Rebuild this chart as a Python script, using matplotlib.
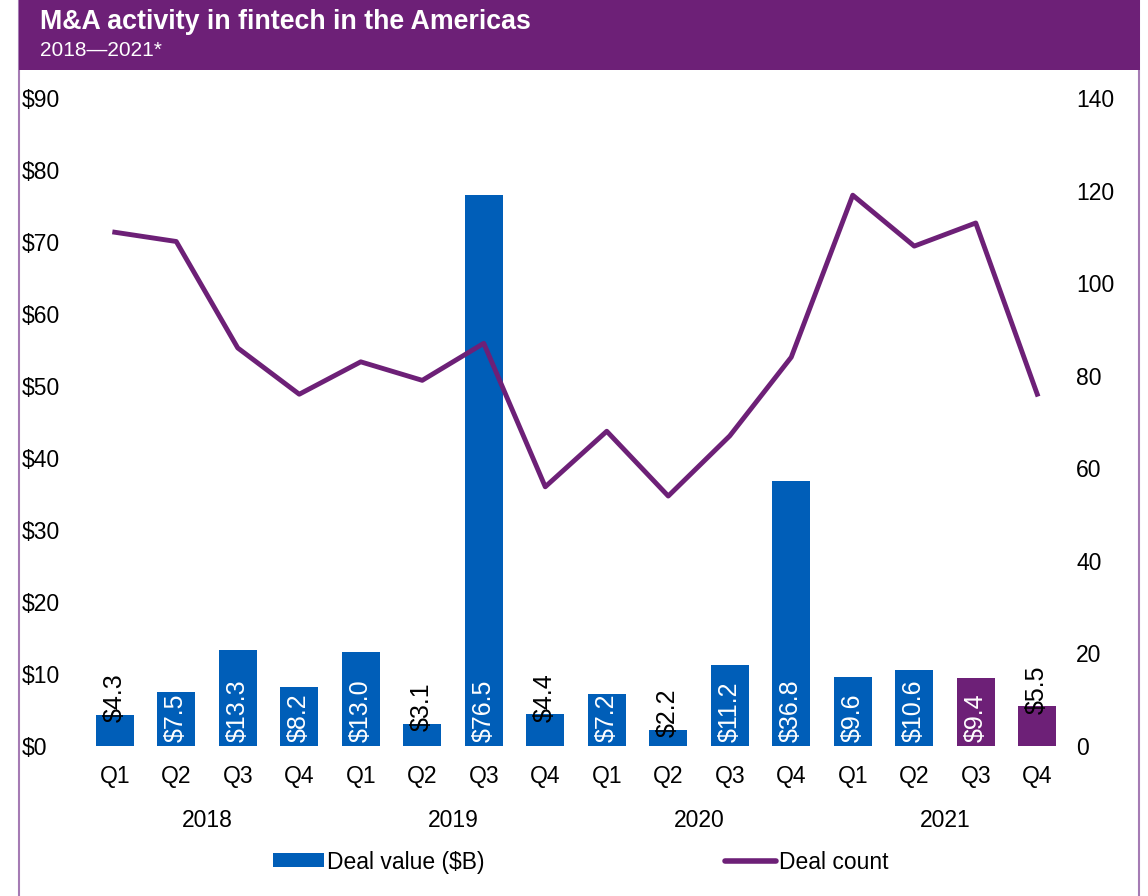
import matplotlib
matplotlib.use("Agg")
from matplotlib import pyplot as plt
from matplotlib.patches import Rectangle, Patch
from matplotlib.lines import Line2D
import matplotlib.transforms as mtransforms

plt.rcParams["font.family"] = ["Liberation Sans", "DejaVu Sans"]

# Data
quarters = ["Q1", "Q2", "Q3", "Q4"] * 4
years = ["2018", "2019", "2020", "2021"]
deal_value = [4.3, 7.5, 13.3, 8.2, 13.0, 3.1, 76.5, 4.4,
              7.2, 2.2, 11.2, 36.8, 9.6, 10.6, 9.4, 5.5]
deal_count = [111, 109, 86, 76, 83, 79, 87, 56,
              68, 54, 67, 84, 119, 108, 113, 76]

BLUE = "#005eb8"
PURPLE = "#6d2077"
BORDER = "#a57bb4"
FS = 16.5

fig = plt.figure(figsize=(11.48, 8.96), dpi=100)

# header band + frame
fig.patches.append(Rectangle((19 / 1148, -0.05), 1120 / 1148, 1.1, transform=fig.transFigure,
                             facecolor="none", edgecolor=BORDER, lw=1.5, zorder=0))
fig.patches.append(Rectangle((19 / 1148, 1 - 70 / 896), 1121 / 1148, 70 / 896,
                             transform=fig.transFigure, facecolor=PURPLE,
                             edgecolor="none", zorder=1))
fig.text(40 / 1148, 1 - 22 / 896, "M&A activity in fintech in the Americas",
         color="white", fontsize=19.3, fontweight="bold", va="center", ha="left")
fig.text(40 / 1148, 1 - 51 / 896, "2018\u20142021*", color="white",
         fontsize=15, va="center", ha="left")

ax = fig.add_axes([84 / 1148, 150 / 896, 984 / 1148, 648 / 896])
ax2 = ax.twinx()

x = list(range(len(deal_value)))
colors = [BLUE] * 14 + [PURPLE] * 2
ax.bar(x, deal_value, width=0.62, color=colors, zorder=2)
ax2.plot(x, deal_count, color=PURPLE, lw=3.5, zorder=3)

ax.set_ylim(0, 90)
ax2.set_ylim(0, 140)
ax.set_xlim(-0.5, len(x) - 0.5)
ax.set_yticks(range(0, 91, 10))
ax.set_yticklabels([f"${v}" for v in range(0, 91, 10)])
ax2.set_yticks(range(0, 141, 20))
ax.set_xticks(x)
ax.set_xticklabels(quarters)

for a in (ax, ax2):
    for s in a.spines.values():
        s.set_visible(False)
    a.tick_params(length=0, labelsize=FS)
ax.tick_params(axis="y", pad=45)
ax2.tick_params(axis="y", pad=6)
ax.tick_params(axis="x", pad=14)
for lbl in ax.get_yticklabels():
    lbl.set_horizontalalignment("left")

# bar labels
for xi, v in zip(x, deal_value):
    if v >= 7:
        ax.text(xi, 0.6, f"${v:.1f}", rotation=90, ha="center", va="bottom",
                color="white", fontsize=18, zorder=4)
    else:
        ax.text(xi, v - 1.0, f"${v:.1f}", rotation=90, ha="center", va="bottom",
                color="black", fontsize=18, zorder=4)

# year labels
trans = mtransforms.blended_transform_factory(ax.transData, ax.transAxes)
for i, yr in enumerate(years):
    ax.text(i * 4 + 1.5, -74 / 648, yr, transform=trans, ha="center", va="center",
            fontsize=FS)

handles = [Patch(facecolor=BLUE, edgecolor="none"),
           Line2D([0], [0], color=PURPLE, lw=4, solid_capstyle="round")]
fig.legend(handles, ["Deal value ($B)", "Deal count"], loc="center",
           bbox_to_anchor=(0.506, 1 - 862 / 896), ncol=2, frameon=False,
           fontsize=FS, handlelength=2.2, handleheight=0.55, handletextpad=0.15,
           columnspacing=10.5)

fig.savefig("out.png", dpi=100)
